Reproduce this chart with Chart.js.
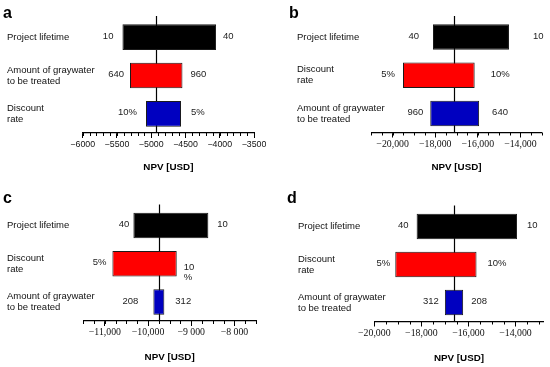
<!DOCTYPE html>
<html>
<head>
<meta charset="utf-8">
<script src="https://cdn.jsdelivr.net/npm/chart.js@4/dist/chart.umd.min.js"></script>
<style>
  body { margin: 0; background: #fff; }
  #wrap { position: relative; width: 550px; height: 367px; }
  canvas { position: absolute; }
</style>
</head>
<body>
<div id="wrap">
  <canvas id="pa" width="275" height="185" style="left:0;top:0"></canvas>
  <canvas id="pb" width="275" height="185" style="left:275px;top:0"></canvas>
  <canvas id="pc" width="275" height="182" style="left:0;top:185px"></canvas>
  <canvas id="pd" width="275" height="182" style="left:275px;top:185px"></canvas>
</div>
<script>
// panel a
var catsA = ["Project lifetime", ["Amount of graywater", "to be treated"], ["Discount", "rate"]];
var lowA = [-5420, -5310, -5076];
var highA = [-4054, -4544, -4565];
var leftTxtA = ["10", "640", "10%"];
var rightTxtA = ["40", "960", "5%"];
var baseA = -4934;
var tickValsA = [-6000, -5500, -5000, -4500, -4000, -3500];
var tickLblsA = ["\u22126000", "\u22125500", "\u22125000", "\u22124500", "\u22124000", "\u22123500"];

// panel b
var catsB = ["Project lifetime", ["Discount", "rate"], ["Amount of graywater", "to be treated"]];
var lowB = [-18104, -19512, -18232];
var highB = [-14536, -16147, -15938];
var leftTxtB = ["40", "5%", "960"];
var rightTxtB = ["10", "10%", "640"];
var baseB = -17095;
var tickValsB = [-20000, -18000, -16000, -14000];
var tickLblsB = ["\u221220,000", "\u221218,000", "\u221216,000", "\u221214,000"];

// panel c
var catsC = ["Project lifetime", ["Discount", "rate"], ["Amount of graywater", "to be treated"]];
var lowC = [-10340, -10826, -9877];
var highC = [-8604, -9336, -9623];
var leftTxtC = ["40", "5%", "208"];
var rightTxtC = ["10", ["10", "%"], "312"];
var baseC = -9738;
var tickValsC = [-11000, -10000, -9000, -8000];
var tickLblsC = ["\u221211,000", "\u221210,000", "\u22129 000", "\u22128 000"];

// panel d
var catsD = ["Project lifetime", ["Discount", "rate"], ["Amount of graywater", "to be treated"]];
var lowD = [-18201, -19109, -17000];
var highD = [-13933, -15655, -16224];
var leftTxtD = ["40", "5%", "312"];
var rightTxtD = ["10", "10%", "208"];
var baseD = -16606;
var tickValsD = [-20000, -18000, -16000, -14000];
var tickLblsD = ["\u221220,000", "\u221218,000", "\u221216,000", "\u221214,000"];

var barColors = ["#000000", "#ff0000", "#0000c0"];
var sans = "'Liberation Sans', Arial, sans-serif";
var serif = "'Liberation Serif', 'Times New Roman', serif";

// pixel layout of each panel (chart area and text spots)
var panels = [
  {id: "pa", letter: "a", cats: catsA, low: lowA, high: highA, lt: leftTxtA, rt: rightTxtA, base: baseA,
   tv: tickValsA, tl: tickLblsA, min: -6000, max: -3500, minor: 100, tickFont: sans, tickSize: 8.8,
   left: 82.7, right: 254, top: 18, bottom: 133, labelX: 7, titleY: 167, letterX: 3, letterY: 18,
   gapL: [9, 6, 9], gapR: [7, 8, 10]},
  {id: "pb", letter: "b", cats: catsB, low: lowB, high: highB, lt: leftTxtB, rt: rightTxtB, base: baseB,
   tv: tickValsB, tl: tickLblsB, min: -21000, max: -13000, minor: 500, tickFont: serif, tickSize: 9.8,
   left: 96.3, right: 266.7, top: 18, bottom: 132.5, labelX: 22, titleY: 167, letterX: 14, letterY: 18,
   gapL: [14, 8, 7], gapR: [24, 16, 13]},
  {id: "pc", letter: "c", cats: catsC, low: lowC, high: highC, lt: leftTxtC, rt: rightTxtC, base: baseC,
   tv: tickValsC, tl: tickLblsC, min: -11500, max: -7500, minor: 250, tickFont: serif, tickSize: 9.8,
   left: 83.3, right: 256, top: 21.5, bottom: 136, labelX: 7, titleY: 172, letterX: 3, letterY: 18,
   gapL: [4, 6, 15], gapR: [9, 7, 11]},
  {id: "pd", letter: "d", cats: catsD, low: lowD, high: highD, lt: leftTxtD, rt: rightTxtD, base: baseD,
   tv: tickValsD, tl: tickLblsD, min: -20000, max: -12800, minor: 500, tickFont: serif, tickSize: 9.8,
   left: 99.3, right: 268.7, top: 22.5, bottom: 136.5, labelX: 23, titleY: 173, letterX: 12, letterY: 18,
   gapL: [8, 5, 6], gapR: [10, 11, 8]}
];

var tornadoPlugin = {
  id: "tornado",
  beforeDatasetsDraw: function (chart) {
    var p = chart.options.plugins.tornado;
    var x = chart.scales.x, a = chart.chartArea, ctx = chart.ctx;
    ctx.save();
    ctx.strokeStyle = "#000";
    ctx.lineWidth = 1.2;
    // baseline
    var bx = Math.round(x.getPixelForValue(p.base)) + 0.5;
    ctx.beginPath();
    ctx.moveTo(bx, a.top - 2);
    ctx.lineTo(bx, a.bottom);
    ctx.stroke();
    // minor ticks
    ctx.lineWidth = 1;
    ctx.beginPath();
    for (var v = p.min; v <= p.max + 1e-6; v += p.minor) {
      var tx = Math.round(x.getPixelForValue(v)) + 0.5;
      ctx.moveTo(tx, a.bottom);
      ctx.lineTo(tx, a.bottom + 3);
    }
    ctx.stroke();
    ctx.restore();
  },
  afterDatasetsDraw: function (chart) {
    var p = chart.options.plugins.tornado;
    var x = chart.scales.x, y = chart.scales.y, ctx = chart.ctx;
    ctx.save();
    ctx.textBaseline = "middle";
    // category labels, placed on the category scale
    ctx.fillStyle = "#111";
    ctx.font = "9.5px " + sans;
    ctx.textAlign = "left";
    chart.data.labels.forEach(function (lab, i) {
      var lines = Array.isArray(lab) ? lab : [lab];
      var yc = y.getPixelForValue(i) - (lines.length - 1) * 5.5;
      lines.forEach(function (ln, k) { ctx.fillText(ln, p.labelX, yc + k * 11); });
    });
    // end value labels
    ctx.fillStyle = "#222";
    ctx.font = "9.5px " + sans;
    for (var i = 0; i < p.low.length; i++) {
      var yc = y.getPixelForValue(i) - 1;
      var x0 = x.getPixelForValue(Math.min(p.low[i], p.high[i]));
      var x1 = x.getPixelForValue(Math.max(p.low[i], p.high[i]));
      ctx.textAlign = "right";
      ctx.fillText(p.lt[i], x0 - p.gapL[i], yc);
      ctx.textAlign = "left";
      if (Array.isArray(p.rt[i])) {
        for (var k = 0; k < p.rt[i].length; k++) {
          ctx.fillText(p.rt[i][k], x1 + p.gapR[i], yc + 5 + k * 10);
        }
      } else {
        ctx.fillText(p.rt[i], x1 + p.gapR[i], yc);
      }
    }
    // panel letter
    ctx.fillStyle = "#000";
    ctx.font = "bold 16px " + sans;
    ctx.textAlign = "left";
    ctx.textBaseline = "alphabetic";
    ctx.fillText(p.letter, p.letterX, p.letterY);
    ctx.restore();
  }
};

panels.forEach(function (p) {
  var cv = document.getElementById(p.id);
  var W = cv.width, H = cv.height;
  var titleSize = 9.8;
  new Chart(cv, {
    type: "bar",
    data: {
      labels: p.cats,
      datasets: [{
        data: p.low.map(function (v, i) { return [v, p.high[i]]; }),
        backgroundColor: barColors,
        borderColor: "#1a1a1a",
        borderWidth: 1,
        borderSkipped: false,
        barPercentage: 0.67,
        categoryPercentage: 1
      }]
    },
    options: {
      indexAxis: "y",
      responsive: false,
      animation: false,
      layout: {padding: {left: 0, right: W - p.right, top: p.top, bottom: 0}},
      plugins: {
        legend: {display: false},
        tooltip: {enabled: false},
        tornado: p
      },
      scales: {
        x: {
          type: "linear",
          min: p.min,
          max: p.max,
          grid: {drawOnChartArea: false, tickLength: 5, tickColor: "#000", tickWidth: 1},
          border: {color: "#000", width: 1.2},
          afterBuildTicks: function (s) {
            s.ticks = p.tv.map(function (v) { return {value: v}; });
          },
          afterFit: function (s) { s.height = H - p.bottom; },
          ticks: {
            autoSkip: false,
            maxRotation: 0,
            padding: 1,
            color: "#111",
            font: {family: p.tickFont, size: p.tickSize},
            callback: function (v, i) { return p.tl[i]; }
          },
          title: {
            display: true,
            text: "NPV [USD]",
            color: "#000",
            font: {family: sans, size: titleSize, weight: "bold"},
            padding: {top: 0, bottom: H - p.titleY - titleSize * 0.6}
          }
        },
        y: {
          grid: {display: false},
          border: {display: false},
          ticks: {display: false},
          afterFit: function (s) { s.width = p.left; }
        }
      }
    },
    plugins: [tornadoPlugin]
  });
});
</script>
</body>
</html>
